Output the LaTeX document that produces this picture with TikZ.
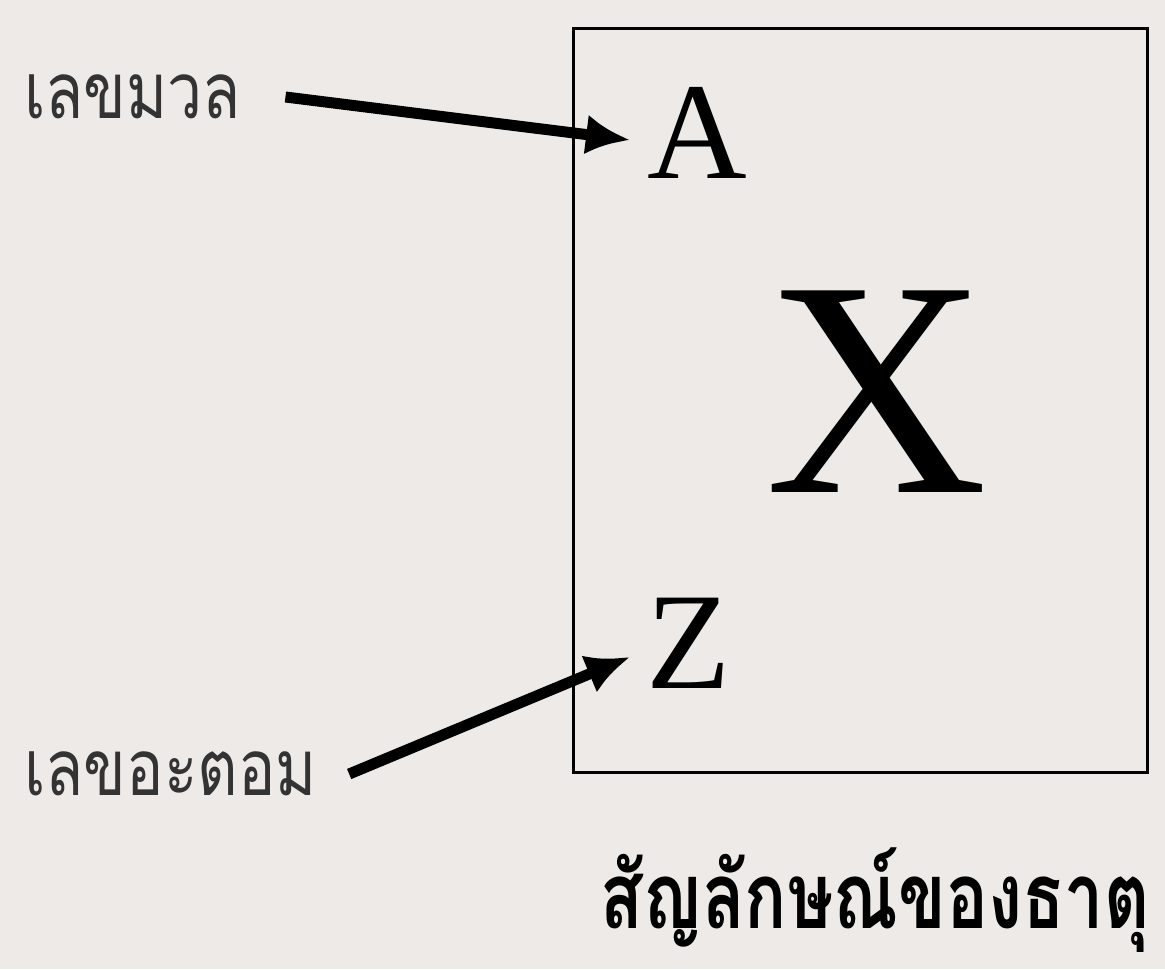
\documentclass[tikz,border=0pt]{standalone}
\usepackage{fontspec}
\setmainfont{Liberation Serif}
\newfontfamily\thaifont[Script=Thai, FakeStretch=0.8]{Loma}
\newfontfamily\thaicapfont[Script=Thai, FakeStretch=0.76]{Loma}
\usetikzlibrary{arrows.meta, positioning}
\definecolor{paper}{RGB}{237,234,231}

\begin{document}
\begin{tikzpicture}[x=0.5pt, y=-0.5pt, >={Latex[length=22pt,width=20pt]},
  lbl/.style={font=\thaifont\fontsize{39}{44}\selectfont, inner sep=0, text=black!80},
  sym/.style={font=\fontsize{69}{72}\selectfont, inner sep=0, anchor=base},
  ptr/.style={->, line width=5.5pt}]
  % Fond
  \fill[paper] (0,0) rectangle (1165,969);
  \useasboundingbox (0,0) rectangle (1165,969);
  % Cadre
  \draw[line width=1.5pt] (573,28) rectangle (1147,772);
  % Symboles
  \node[sym] (symA) at (697,178) {A};
  \node[sym, font=\fontsize{154}{160}\selectfont] (symX) at (877,492) {X};
  \node[sym] (symZ) at (689,688) {Z};
  % Etiquettes
  \node[lbl, anchor=west] (massLbl) at (24,97) {เลขมวล};
  \node[lbl, anchor=west] (atomLbl) at (24,774) {เลขอะตอม};
  \coordinate (tipA) at (630,140);
  \coordinate (tipZ) at (630,657);
  \draw[ptr] ([xshift=22pt]massLbl.east) -- (tipA);
  \draw[ptr] ([xshift=16pt]atomLbl.east) -- (tipZ);
  % Legende
  \node[font=\thaicapfont\bfseries\fontsize{46}{52}\selectfont, inner sep=0, anchor=east]
    (caption) at (1150,900) {สัญลักษณ์ของธาตุ};
\end{tikzpicture}
\end{document}
